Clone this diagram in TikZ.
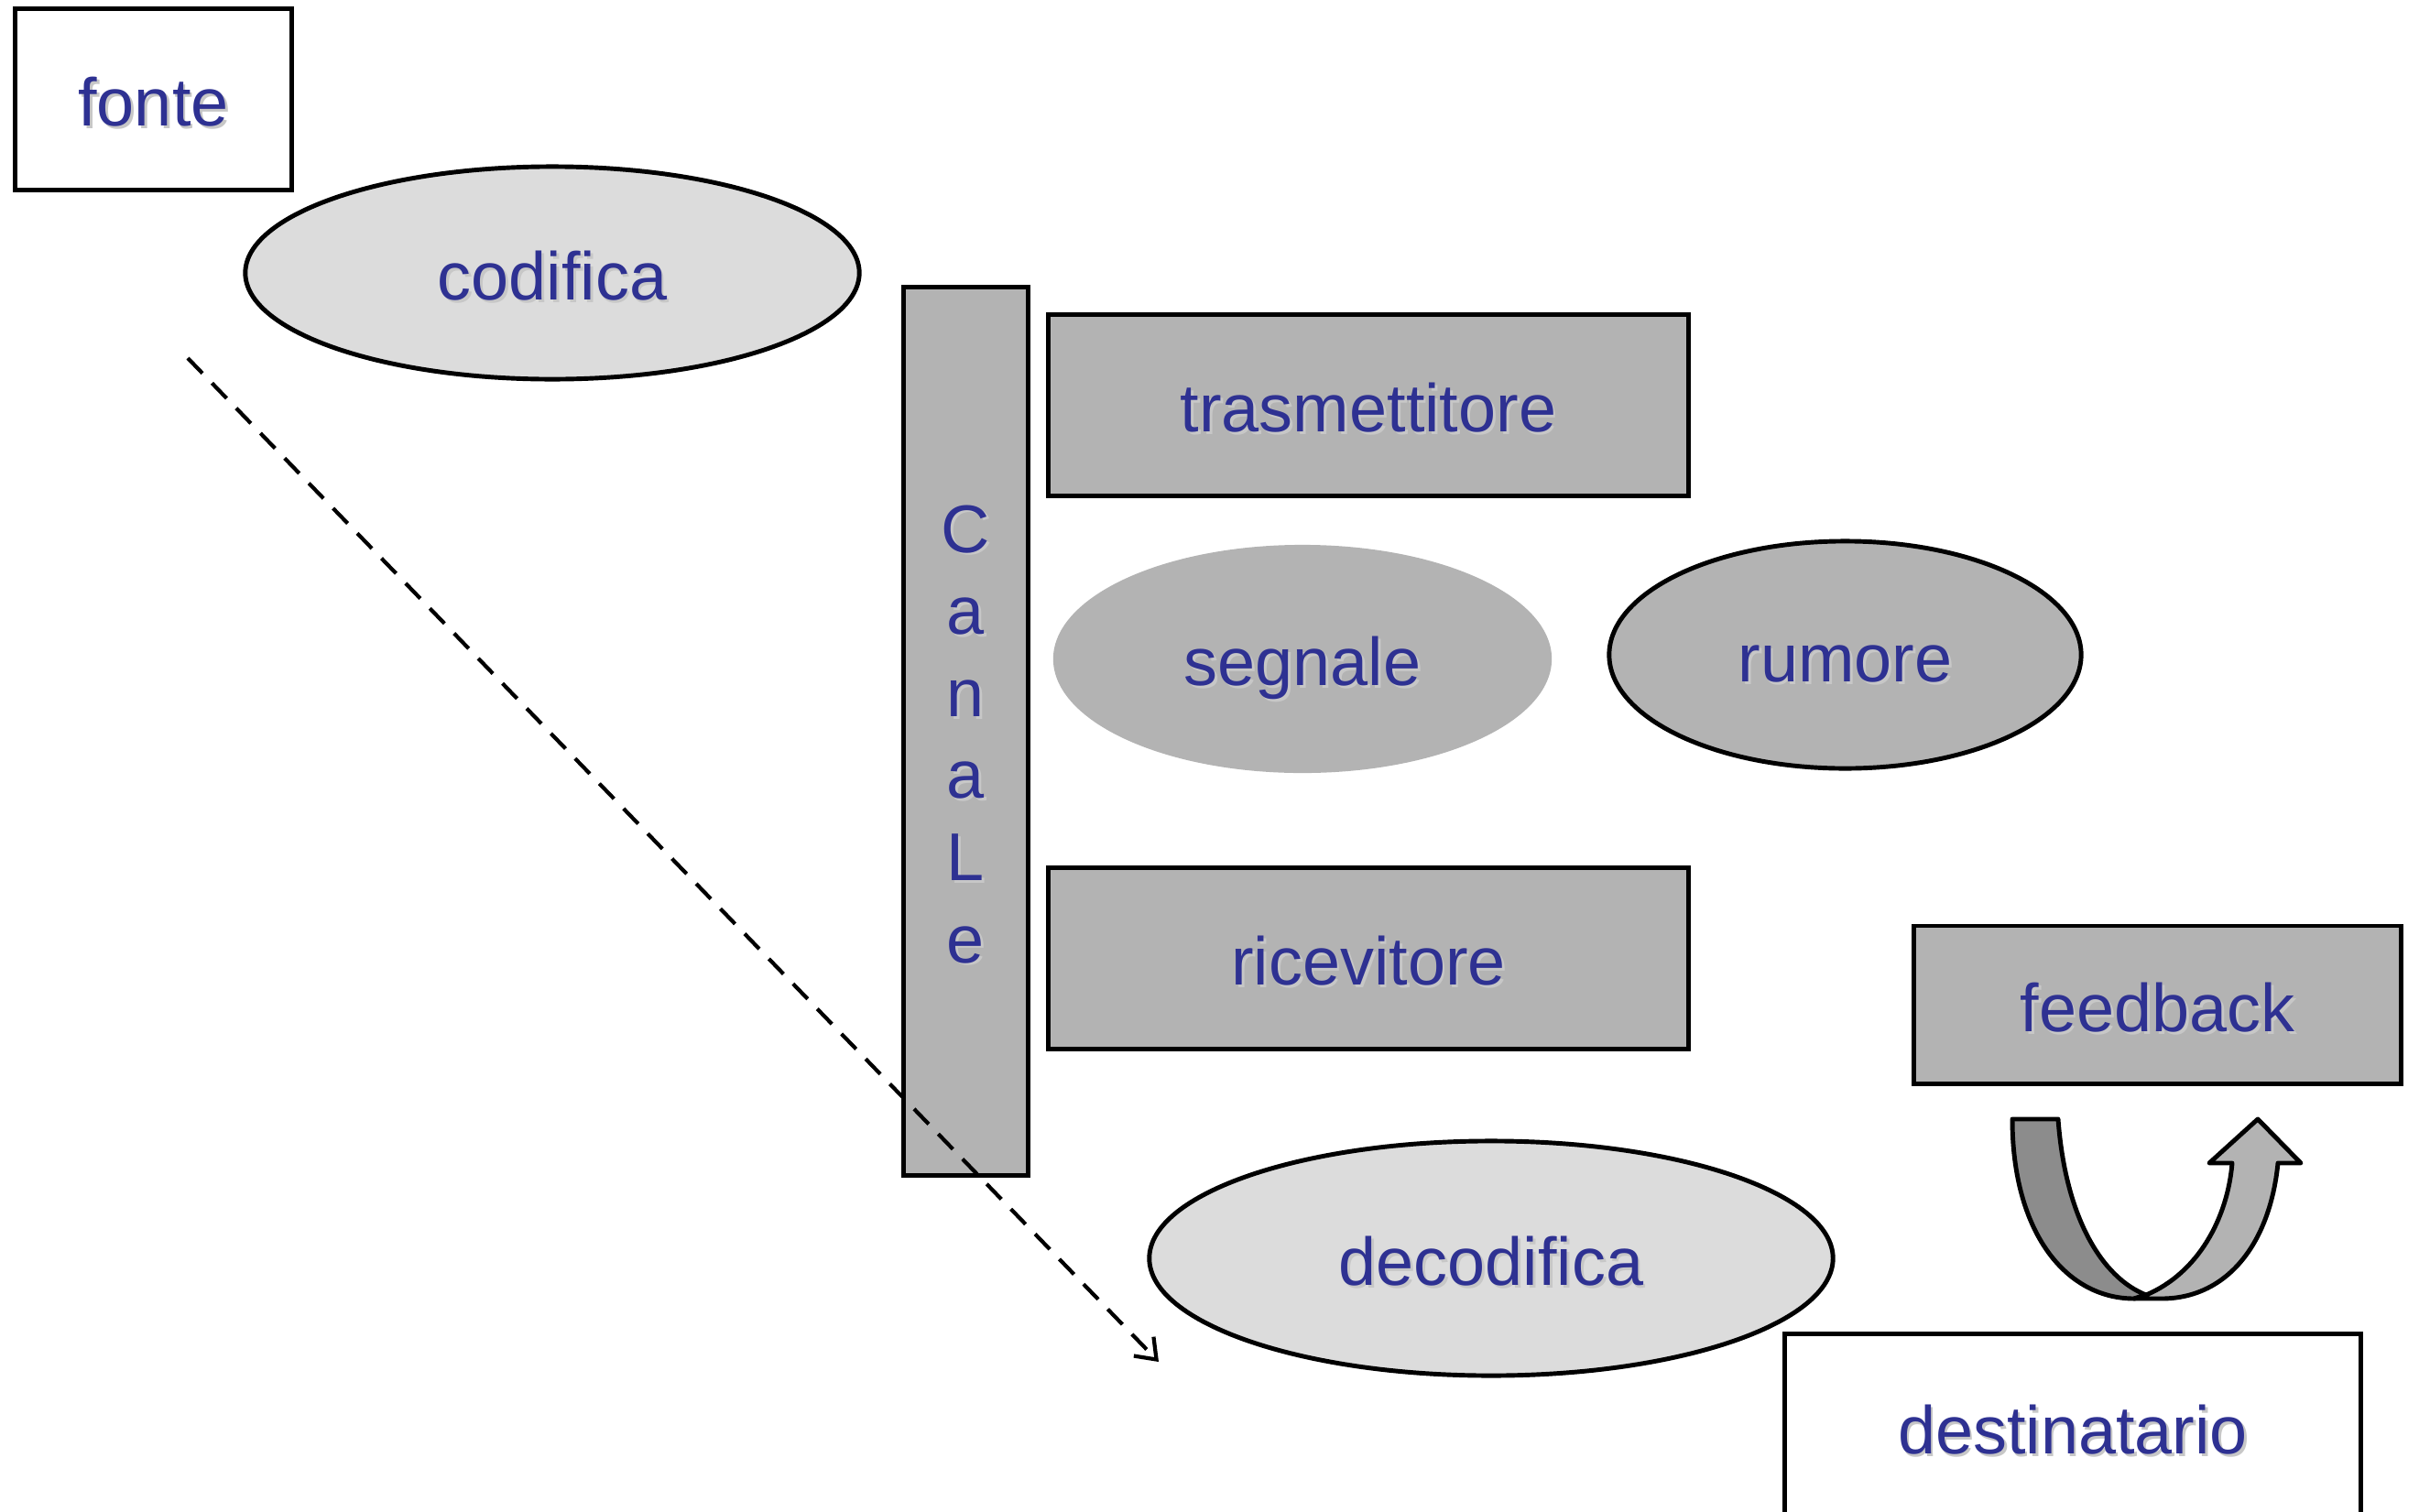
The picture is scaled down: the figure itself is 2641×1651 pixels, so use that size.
\documentclass[tikz,border=0pt]{standalone}
\usepackage{fontspec}
\setmainfont{Liberation Sans}
\usepackage{tikz}
\usetikzlibrary{arrows.meta,positioning,shapes.geometric}
\definecolor{ink}{HTML}{2E3192}
\definecolor{midgray}{HTML}{B3B3B3}
\definecolor{palegray}{HTML}{DCDCDC}
\definecolor{darkband}{HTML}{8C8C8C}
\newcommand{\shd}[1]{\makebox[0pt][l]{\hspace{0.8pt}\raisebox{-0.8pt}{\textcolor{black!22}{#1}}}#1}

\begin{document}
\begin{tikzpicture}[x=0.01cm, y=-0.01cm, every node/.style={font=\fontsize{21}{25}\selectfont, text=ink}, box/.style={draw, rectangle, line width=1.4pt, inner sep=0pt, text height=19pt, text depth=2.3pt}, bubble/.style={ellipse, line width=1.4pt, inner sep=0pt, text height=19pt, text depth=2.3pt}, band/.style={draw, line width=1.4pt, line join=round}]
\useasboundingbox (0,0) rectangle (2641,1651);
\clip (0,0) rectangle (2641,1651);
\node[box,fill=white,minimum width=3.01cm,minimum height=1.97cm] (fonte) at (167.5,108.5) {\shd{fonte}};
\node[bubble,draw,fill=palegray,minimum width=6.70cm,minimum height=2.32cm] (codifica) at (603,298) {\shd{codifica}};
\node[box,fill=midgray,minimum width=1.36cm,minimum height=9.69cm] (canale) at (1054.5,798.5) {};
\foreach \ch [count=\i] in {C,a,n,a,L,e}
  \node[anchor=base,inner sep=0pt] (canale-\i) at (1054,{603+(\i-1)*89.6}) {\shd{\ch}};
\node[box,fill=midgray,minimum width=6.99cm,minimum height=1.98cm] (trasmettitore) at (1494,442.5) {\shd{trasmettitore}};
\node[bubble,fill=midgray,minimum width=5.44cm,minimum height=2.49cm] (segnale) at (1422,719.5) {\shd{segnale}};
\node[bubble,draw,fill=midgray,minimum width=5.15cm,minimum height=2.48cm] (rumore) at (2014.5,715) {\shd{rumore}};
\node[box,fill=midgray,minimum width=6.99cm,minimum height=1.97cm] (ricevitore) at (1494,1046.5) {\shd{ricevitore}};
\node[box,fill=midgray,minimum width=5.31cm,minimum height=1.72cm] (feedback) at (2355.5,1097) {\shd{feedback}};
\node[bubble,draw,fill=palegray,minimum width=7.46cm,minimum height=2.56cm] (decodifica) at (1628,1374) {\shd{decodifica}};
\node[box,fill=white,minimum width=6.28cm,minimum height=2.02cm] (destinatario) at (2263,1558) {\shd{destinatario}};
% U-turn arrow between feedback and destinatario
\draw[band,fill=darkband] (2247,1222) -- (2197,1222) .. controls (2197,1345) and (2255,1418) .. (2330,1418) -- (2343,1414) .. controls (2295,1395) and (2255,1330) .. (2247,1222) -- cycle;
\draw[band,fill=midgray] (2343,1414) .. controls (2400,1390) and (2432,1330) .. (2437,1270) -- (2412,1270) -- (2465,1222) -- (2512,1270) -- (2487,1270) .. controls (2478,1360) and (2430,1418) .. (2360,1418) -- (2330,1418) -- cycle;
% dashed flow line
\coordinate (flowstart) at (205,391);
\coordinate (flowend) at (1265,1487);
\draw[line width=1.2pt, dash pattern=on 0.23cm off 0.15cm, -{Straight Barb[length=2mm,width=3mm]}] (flowstart) -- (flowend);
\end{tikzpicture}
\end{document}
